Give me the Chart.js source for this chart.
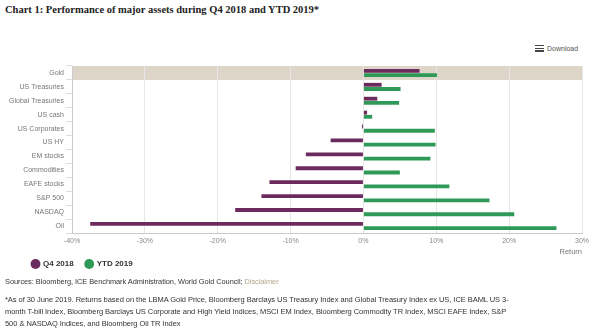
<!DOCTYPE html>
<html>
<head>
<meta charset="utf-8">
<script src="https://cdn.jsdelivr.net/npm/chart.js@4.4.1/dist/chart.umd.min.js"></script>
<style>
  html, body { margin: 0; padding: 0; background: #fff; }
  body { width: 600px; height: 329px; position: relative; overflow: hidden; font-family: "Liberation Sans", Arial, sans-serif; }
  #title { position: absolute; left: 5px; top: 4px; font-family: "Liberation Serif", serif; font-weight: bold; font-size: 10.5px; color: #222; white-space: nowrap; }
  #download { position: absolute; left: 535px; top: 45px; font-size: 7px; color: #555; white-space: nowrap; }
  #download .bars { display: inline-block; width: 9px; height: 7px; vertical-align: -1px; margin-right: 3px;
    background: linear-gradient(#444 0 1.5px, transparent 1.5px 3px, #444 3px 4.5px, transparent 4.5px 5.5px, #444 5.5px 7px); }
  #wrap { position: absolute; left: 0; top: 56px; width: 600px; height: 222px; }
  .note { position: absolute; left: 5px; font-size: 7.5px; letter-spacing: -0.05px; color: #333; white-space: nowrap; }
  .note a { color: #b5a58a; text-decoration: none; }
</style>
</head>
<body>
<div id="title">Chart 1: Performance of major assets during Q4 2018 and YTD 2019*</div>
<div id="download"><span class="bars"></span>Download</div>
<div id="wrap"><canvas id="chart"></canvas></div>
<div class="note" style="top:277px; font-size:7.4px">Sources: Bloomberg, ICE Benchmark Administration, World Gold Council; <a>Disclaimer</a></div>
<div class="note" style="top:295px">*As of 30 June 2019. Returns based on the LBMA Gold Price, Bloomberg Barclays US Treasury Index and Global Treasury Index ex US, ICE BAML US 3-</div>
<div class="note" style="top:307px">month T-bill Index, Bloomberg Barclays US Corporate and High Yield Indices, MSCI EM Index, Bloomberg Commodity TR Index, MSCI EAFE Index, S&amp;P</div>
<div class="note" style="top:319px">500 &amp; NASDAQ Indices, and Bloomberg Oil TR Index</div>
<script>
// asset classes, top to bottom
const assets = ['Gold', 'US Treasuries', 'Global Treasuries', 'US cash', 'US Corporates', 'US HY',
  'EM stocks', 'Commodities', 'EAFE stocks', 'S&P 500', 'NASDAQ', 'Oil'];
// returns in %
const q4_2018 = [7.7, 2.5, 1.9, 0.5, -0.2, -4.5, -7.9, -9.3, -12.9, -14.0, -17.6, -37.5];
const ytd_2019 = [10.1, 5.1, 4.9, 1.2, 9.8, 9.9, 9.2, 5.0, 11.8, 17.3, 20.7, 26.5];
const xTicks = [-40, -30, -20, -10, 0, 10, 20, 30];

const PURPLE = '#6b2b5e';
const GREEN = '#2f9a57';

// shaded band behind the highlighted row (Gold)
const highlightRow = {
  id: 'highlightRow',
  beforeDraw(chart) {
    const { ctx, chartArea, scales } = chart;
    const y = scales.y;
    const idx = assets.indexOf('Gold');
    const half = (y.getPixelForValue(1) - y.getPixelForValue(0)) / 2;
    const c = y.getPixelForValue(idx);
    ctx.save();
    ctx.fillStyle = '#ddd5c7';
    ctx.fillRect(chartArea.left, c - half, chartArea.right - chartArea.left, half * 2);
    ctx.restore();
  }
};

// nudge the legend in from the left edge
const legendIndent = {
  id: 'legendIndent',
  afterLayout(chart) {
    if (chart.legend) chart.legend.left += 20;
  }
};

new Chart(document.getElementById('chart'), {
  type: 'bar',
  data: {
    labels: assets,
    datasets: [
      { label: 'Q4 2018', data: q4_2018, backgroundColor: PURPLE, borderWidth: 0 },
      { label: 'YTD 2019', data: ytd_2019, backgroundColor: GREEN, borderWidth: 0 }
    ]
  },
  options: {
    indexAxis: 'y',
    responsive: true,
    maintainAspectRatio: false,
    animation: false,
    datasets: { bar: { categoryPercentage: 0.6, barPercentage: 0.92 } },
    layout: { padding: { top: 10, right: 18, left: 0, bottom: 0 } },
    plugins: {
      legend: {
        position: 'bottom',
        align: 'start',
        labels: {
          usePointStyle: true, pointStyle: 'circle', boxWidth: 7, boxHeight: 7,
          padding: 12, color: '#333', font: { size: 8, weight: 'bold', family: 'Liberation Sans' }
        }
      },
      tooltip: { enabled: false }
    },
    scales: {
      x: {
        min: -40, max: 30,
        afterBuildTicks: s => { s.ticks = xTicks.map(v => ({ value: v })); },
        afterFit: s => { s.height = 15; },
        grid: { color: '#e6e6e6', drawTicks: false },
        border: { color: '#c8c8c8' },
        ticks: { color: '#888', padding: 4, font: { size: 7, family: 'Liberation Sans' }, callback: v => v + '%' },
        title: { display: true, text: 'Return', align: 'end', color: '#777', padding: { top: 0, bottom: -8 }, font: { size: 7.5, family: 'Liberation Sans' } }
      },
      y: {
        afterFit: s => { s.width = 72; },
        grid: { display: true, drawOnChartArea: false, tickLength: 6, color: '#ddd' },
        border: { color: '#ccc' },
        ticks: { color: '#777', padding: 2, font: { size: 7, family: 'Liberation Sans' } }
      }
    }
  },
  plugins: [highlightRow, legendIndent]
});
</script>
</body>
</html>
